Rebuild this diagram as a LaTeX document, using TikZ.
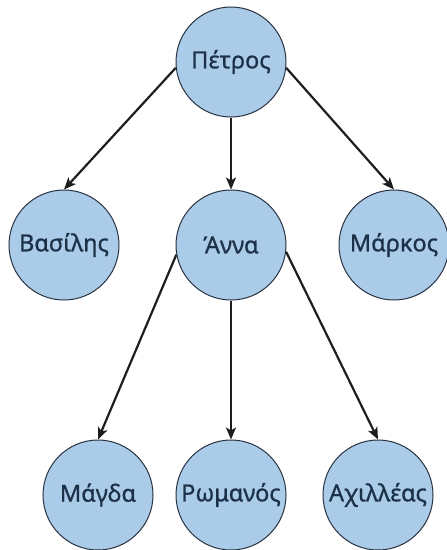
\documentclass[tikz,border=0pt]{standalone}
\usepackage{fontspec}
\setmainfont{Noto Sans}[FakeBold=0.8]
\usetikzlibrary{arrows.meta}
\definecolor{nodefill}{RGB}{170,204,232}
\definecolor{nodeline}{RGB}{40,50,65}
\definecolor{nodetext}{RGB}{28,48,72}
\definecolor{edgecol}{RGB}{30,30,30}
\tikzset{
  person/.style={circle, minimum size=110pt, inner sep=0pt, fill=nodefill,
    draw=nodeline, line width=1pt, text=nodetext, font=\fontsize{23.5}{28}\selectfont},
  link/.style={draw=edgecol, line width=2.2pt,
    -{Stealth[length=12pt,width=10pt,inset=3pt]}}
}
\begin{document}
\begin{tikzpicture}[x=1pt,y=-1pt]
\useasboundingbox (0,0) rectangle (447,550);
% first generation
\node[person] (petros) at (231,62) {Πέτρος};
% second generation
\node[person] (vasilis) at (64,245) {Βασίλης};
\node[person] (anna) at (231,245) {Άννα};
\node[person] (markos) at (394,245) {Μάρκος};
% third generation
\node[person] (magda) at (98,495) {Μάγδα};
\node[person] (romanos) at (231,495) {Ρωμανός};
\node[person] (achilleas) at (378,495) {Αχιλλέας};
% parent-to-child links
\draw[link] (petros.186) -- (vasilis.north);
\draw[link] (petros.south) -- (anna.north);
\draw[link] (petros.354) -- (markos.north);
\draw[link] (anna.190) -- (magda.north);
\draw[link] (anna.south) -- (romanos.north);
\draw[link] (anna.353) -- (achilleas.north);
\end{tikzpicture}
\end{document}
